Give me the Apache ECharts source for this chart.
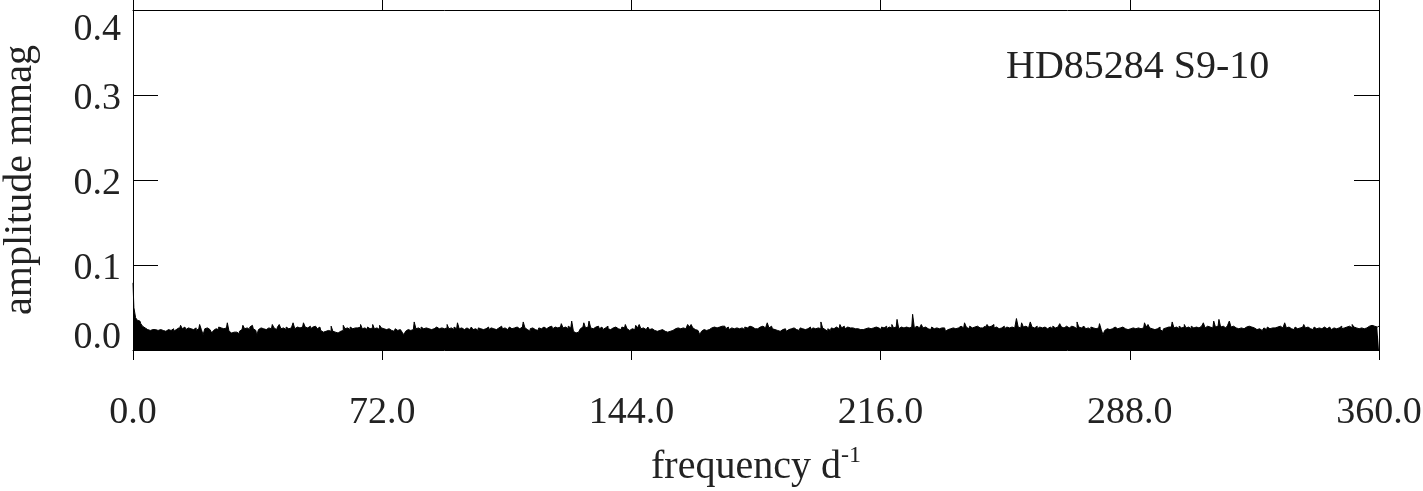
<!DOCTYPE html>
<html><head><meta charset="utf-8">
<script src="https://cdn.jsdelivr.net/npm/echarts@6/dist/echarts.min.js"></script>
<style>html,body{margin:0;padding:0;background:#fff}#c{width:1423px;height:491px}</style>
</head><body><div id="c"></div>
<script>
const FREQ_STEP = 0.5;
const ampSeg1 = [ // 0 .. 89.5
0.079,0.050,0.038,0.035,0.034,0.031,0.028,0.026,0.024,0.025,
0.023,0.024,0.022,0.024,0.023,0.022,0.024,0.023,0.025,0.022,
0.024,0.026,0.023,0.025,0.022,0.024,0.026,0.023,0.029,0.025,
0.027,0.024,0.026,0.025,0.027,0.024,0.026,0.023,0.025,0.030,
0.024,0.018,0.025,0.026,0.024,0.022,0.020,0.023,0.025,0.024,
0.027,0.026,0.025,0.027,0.026,0.032,0.022,0.020,0.021,0.020,
0.021,0.019,0.022,0.024,0.029,0.025,0.026,0.024,0.027,0.029,
0.025,0.023,0.017,0.024,0.026,0.025,0.027,0.024,0.026,0.027,
0.025,0.030,0.026,0.024,0.027,0.030,0.025,0.026,0.024,0.027,
0.025,0.026,0.024,0.032,0.025,0.027,0.026,0.025,0.027,0.032,
0.027,0.026,0.028,0.025,0.027,0.028,0.026,0.025,0.027,0.023,
0.021,0.022,0.021,0.023,0.022,0.028,0.022,0.021,0.020,0.021,
0.022,0.023,0.029,0.025,0.026,0.024,0.027,0.025,0.026,0.024,
0.026,0.027,0.030,0.025,0.026,0.024,0.027,0.025,0.026,0.030,
0.025,0.026,0.024,0.029,0.026,0.025,0.024,0.026,0.025,0.023,
0.024,0.022,0.025,0.023,0.024,0.022,0.021,0.018,0.022,0.024,
0.023,0.025,0.024,0.033,0.025,0.026,0.024,0.027,0.025,0.026,
0.027,0.025,0.024,0.026,0.025,0.027,0.029,0.025,0.026,0.024
];
const ampSeg2 = [ // 90 .. 179.5
0.025,0.026,0.030,0.025,0.026,0.024,0.027,0.025,0.032,0.025,
0.026,0.024,0.025,0.026,0.024,0.025,0.027,0.024,0.025,0.023,
0.026,0.025,0.024,0.026,0.025,0.027,0.024,0.026,0.025,0.027,
0.024,0.026,0.025,0.028,0.025,0.026,0.024,0.026,0.027,0.025,
0.026,0.024,0.027,0.025,0.026,0.027,0.033,0.026,0.024,0.022,
0.025,0.026,0.024,0.025,0.023,0.026,0.025,0.027,0.026,0.025,
0.027,0.026,0.028,0.025,0.027,0.026,0.028,0.027,0.031,0.026,
0.027,0.025,0.028,0.026,0.034,0.022,0.020,0.021,0.023,0.025,
0.027,0.032,0.026,0.027,0.034,0.026,0.025,0.027,0.026,0.028,
0.025,0.027,0.024,0.026,0.028,0.025,0.024,0.026,0.025,0.027,
0.025,0.026,0.024,0.027,0.026,0.030,0.025,0.023,0.025,0.026,
0.024,0.029,0.026,0.030,0.025,0.026,0.024,0.025,0.027,0.024,
0.025,0.023,0.024,0.022,0.023,0.021,0.024,0.022,0.023,0.021,
0.022,0.024,0.023,0.025,0.024,0.026,0.025,0.027,0.026,0.025,
0.027,0.030,0.027,0.030,0.026,0.024,0.023,0.021,0.018,0.022,
0.024,0.023,0.025,0.024,0.026,0.025,0.027,0.026,0.025,0.027,
0.028,0.026,0.028,0.025,0.027,0.024,0.026,0.025,0.024,0.026,
0.025,0.027,0.026,0.024,0.027,0.026,0.028,0.026,0.027,0.025
];
const ampSeg3 = [ // 180 .. 269.5
0.026,0.025,0.027,0.026,0.028,0.026,0.027,0.032,0.026,0.028,
0.025,0.024,0.023,0.025,0.022,0.024,0.023,0.025,0.022,0.024,
0.025,0.023,0.026,0.024,0.025,0.023,0.026,0.025,0.024,0.026,
0.025,0.027,0.024,0.026,0.025,0.027,0.026,0.025,0.033,0.026,
0.024,0.022,0.025,0.023,0.026,0.025,0.027,0.026,0.025,0.030,
0.026,0.028,0.025,0.027,0.026,0.024,0.026,0.025,0.023,0.025,
0.024,0.022,0.024,0.025,0.023,0.026,0.025,0.024,0.026,0.027,
0.025,0.026,0.024,0.027,0.026,0.028,0.025,0.027,0.026,0.030,
0.026,0.027,0.036,0.025,0.027,0.026,0.028,0.027,0.026,0.028,
0.027,0.042,0.026,0.028,0.026,0.027,0.030,0.026,0.027,0.025,
0.026,0.024,0.027,0.025,0.026,0.028,0.025,0.026,0.024,0.026,
0.022,0.024,0.025,0.027,0.026,0.025,0.027,0.026,0.028,0.027,
0.026,0.032,0.027,0.025,0.028,0.026,0.027,0.025,0.028,0.026,
0.027,0.026,0.028,0.025,0.030,0.027,0.028,0.030,0.026,0.027,
0.025,0.027,0.026,0.028,0.025,0.027,0.026,0.028,0.027,0.026,
0.028,0.037,0.027,0.026,0.032,0.027,0.028,0.026,0.027,0.033,
0.027,0.026,0.028,0.025,0.027,0.026,0.024,0.027,0.025,0.026,
0.027,0.025,0.028,0.026,0.027,0.026,0.031,0.027,0.026,0.028
];
const ampSeg4 = [ // 270 .. 360
0.027,0.026,0.028,0.026,0.027,0.025,0.033,0.027,0.026,0.028,
0.027,0.025,0.026,0.024,0.027,0.026,0.025,0.027,0.026,0.031,
0.024,0.018,0.023,0.025,0.024,0.026,0.025,0.027,0.026,0.025,
0.026,0.024,0.027,0.025,0.026,0.024,0.025,0.027,0.026,0.025,
0.027,0.026,0.025,0.027,0.026,0.032,0.027,0.030,0.026,0.025,
0.024,0.026,0.025,0.027,0.024,0.022,0.025,0.026,0.027,0.025,
0.027,0.033,0.026,0.027,0.025,0.028,0.026,0.027,0.030,0.026,
0.027,0.025,0.028,0.026,0.027,0.025,0.026,0.028,0.027,0.032,
0.026,0.028,0.027,0.029,0.026,0.034,0.027,0.028,0.036,0.027,
0.028,0.026,0.027,0.029,0.034,0.027,0.028,0.026,0.027,0.025,
0.026,0.028,0.025,0.027,0.026,0.028,0.027,0.025,0.026,0.024,
0.026,0.025,0.023,0.025,0.026,0.024,0.027,0.025,0.026,0.028,
0.026,0.027,0.025,0.028,0.026,0.027,0.032,0.026,0.027,0.025,
0.026,0.024,0.027,0.025,0.026,0.028,0.027,0.030,0.026,0.027,
0.025,0.026,0.024,0.027,0.025,0.026,0.028,0.025,0.027,0.026,
0.025,0.027,0.026,0.024,0.026,0.025,0.027,0.026,0.028,0.025,
0.026,0.027,0.025,0.028,0.026,0.030,0.027,0.026,0.025,0.027,
0.026,0.025,0.027,0.026,0.028,0.027,0.029,0.028,0.029,0.027,
0.028
];
const xRange = [0, 360];
const xTickStep = 72;
const yRange = [0, 0.4];
const yTickStep = 0.1;
const starLabel = 'HD85284 S9-10';
const xName = 'frequency d';
const xNameSup = '-1';
const yName = 'amplitude mmag';

const amp = ampSeg1.concat(ampSeg2, ampSeg3, ampSeg4);
const seriesData = amp.map((a, i) => [i * FREQ_STEP, a]);

const FONT = 'Liberation Serif';
const TXT = '#222';
const chart = echarts.init(document.getElementById('c'), null, {renderer: 'canvas'});
const tickFont = 38;

chart.setOption({
  animation: false,
  backgroundColor: '#fff',
  grid: {left: 133, right: 44, top: 10, bottom: 141, containLabel: false, outerBoundsMode: 'none'},
  xAxis: [{
    type: 'value', position: 'bottom', min: xRange[0], max: xRange[1], interval: xTickStep,
    name: '{a|' + xName + '}{b|' + xNameSup + '}',
    nameLocation: 'middle', nameGap: 94,
    nameTextStyle: {
      rich: {
        a: {fontFamily: FONT, fontSize: 40, color: TXT, lineHeight: 46},
        b: {fontFamily: FONT, fontSize: 24, color: TXT, verticalAlign: 'top', lineHeight: 24}
      }
    },
    axisLine: {show: true, onZero: false, lineStyle: {color: '#000', width: 1}},
    axisTick: {show: true, inside: false, length: 10, lineStyle: {color: '#000', width: 1}},
    axisLabel: {show: true, margin: 44, fontFamily: FONT, fontSize: tickFont, color: TXT,
      formatter: v => v.toFixed(1)},
    splitLine: {show: false}
  }, {
    type: 'value', position: 'top', min: xRange[0], max: xRange[1], interval: xTickStep,
    axisLine: {show: true, onZero: false, lineStyle: {color: '#000', width: 1}},
    axisTick: {show: true, inside: false, length: 10, lineStyle: {color: '#000', width: 1}},
    axisLabel: {show: false},
    splitLine: {show: false}
  }],
  yAxis: [{
    type: 'value', position: 'left', min: yRange[0], max: yRange[1], interval: yTickStep,
    name: yName, nameLocation: 'middle', nameGap: 93, nameRotate: 90,
    nameTextStyle: {fontFamily: FONT, fontSize: 40, color: TXT},
    axisLine: {show: true, onZero: false, lineStyle: {color: '#000', width: 1}},
    axisTick: {show: true, inside: true, length: 25, lineStyle: {color: '#000', width: 1}},
    axisLabel: {
      show: true, margin: 12, fontFamily: FONT, fontSize: tickFont, color: TXT,
      formatter: v => {
        const s = v.toFixed(1);
        if (v >= yRange[1] - 1e-9) return '{top|' + s + '}';
        if (v <= yRange[0] + 1e-9) return '{bot|' + s + '}';
        return '{mid|' + s + '}';
      },
      rich: {
        top: {fontFamily: FONT, fontSize: tickFont, color: TXT, padding: [40, 0, 0, 0]},
        mid: {fontFamily: FONT, fontSize: tickFont, color: TXT, padding: [9, 0, 0, 0]},
        bot: {fontFamily: FONT, fontSize: tickFont, color: TXT, padding: [0, 0, 24, 0]}
      }
    },
    splitLine: {show: false}
  }, {
    type: 'value', position: 'right', min: yRange[0], max: yRange[1], interval: yTickStep,
    axisLine: {show: true, onZero: false, lineStyle: {color: '#000', width: 1}},
    axisTick: {show: true, inside: true, length: 25, lineStyle: {color: '#000', width: 1}},
    axisLabel: {show: false},
    splitLine: {show: false}
  }],
  graphic: [{
    type: 'text', left: 1006, top: 47, z: 10,
    style: {text: starLabel, fontFamily: FONT, fontSize: 40, fill: TXT}
  }],
  series: [{
    type: 'line', xAxisIndex: 0, yAxisIndex: 0,
    data: seriesData, showSymbol: false, symbol: 'none', silent: true,
    step: 'middle',
    lineStyle: {color: '#000', width: 1},
    areaStyle: {color: '#000', opacity: 1, origin: 'start'},
    z: 3
  }]
});
</script>
</body></html>
